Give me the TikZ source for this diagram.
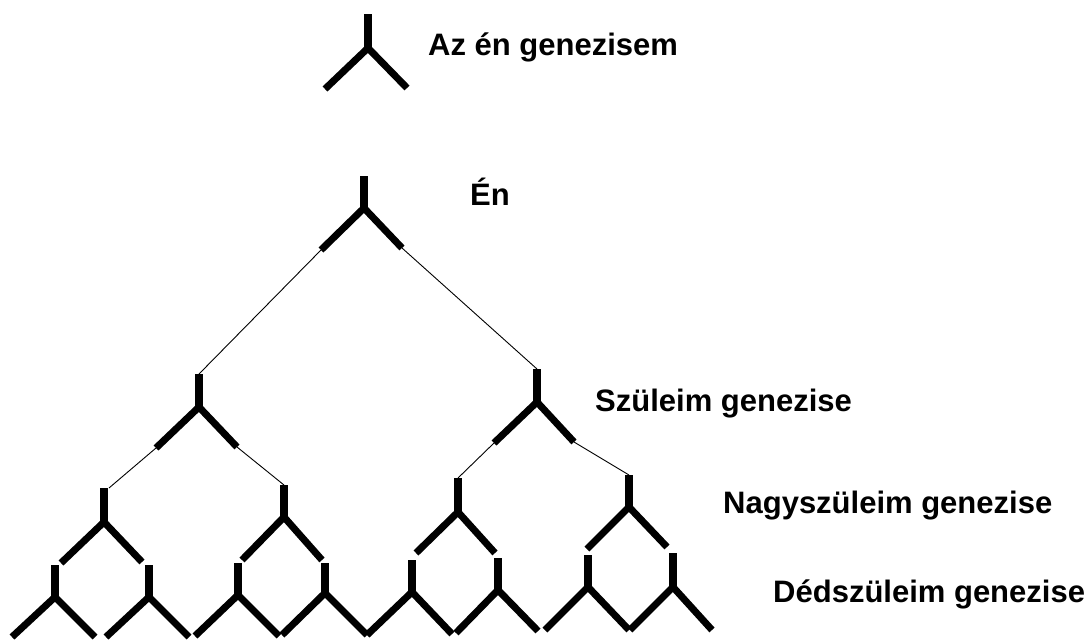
\documentclass[tikz,border=0pt]{standalone}
\usepackage{fontspec}
\setmainfont{Liberation Sans}
\newcommand{\ygl}[8]{%
  \coordinate (#1-t) at (#2,#3);
  \coordinate (#1-j) at (#2,#4);
  \coordinate (#1-l) at (#5,#6);
  \coordinate (#1-r) at (#7,#8);
  \draw[stemline] (#1-t) -- ([yshift=-2pt]#1-j);
  \draw[legline] (#1-l) -- (#1-j) -- (#1-r);
}
\begin{document}
\begin{tikzpicture}[x=1pt,y=-1pt,
  stemline/.style={line width=7.5pt,line cap=butt,black},
  legline/.style={line width=7pt,line cap=butt,line join=miter,black},
  thinline/.style={line width=0.9pt,black},
  lbl/.style={anchor=base west,inner sep=0pt,font=\bfseries\fontsize{31}{36}\selectfont}]
\fill[white] (0,0) rectangle (1089,640);
\useasboundingbox (0,0) rectangle (1089,640);
% legend glyph
\ygl{A}{368}{14}{48}{325}{89}{407}{88}
% tree
\ygl{E}{364}{176}{208}{321}{250}{402}{248}
\ygl{P1}{199}{374}{407}{156}{448}{237}{447}
\ygl{P2}{537}{369}{402}{494}{443}{574}{442}
\ygl{G1}{104}{488}{522}{61}{563}{142}{562}
\ygl{G2}{284}{485}{517}{242}{560}{322}{560}
\ygl{G3}{458}{478}{512}{416}{553}{495}{553}
\ygl{G4}{629}{475}{507}{587}{549}{667}{547}
\ygl{D1}{55}{565}{597}{12}{637}{95}{637}
\ygl{D2}{149}{565}{597}{106}{637}{189}{637}
\ygl{D3}{238}{563}{595}{195}{636}{279}{636}
\ygl{D4}{325}{563}{593}{282}{635}{367}{635}
\ygl{D5}{412}{560}{592}{367}{635}{452}{634}
\ygl{D6}{498}{558}{590}{456}{633}{538}{631}
\ygl{D7}{588}{555}{587}{545}{630}{629}{630}
\ygl{D8}{673}{553}{587}{630}{630}{712}{630}
% thin connectors
\draw[thinline] (E-l) -- (P1-t);
\draw[thinline] (E-r) -- (P2-t);
\draw[thinline] (P1-l) -- ([xshift=5pt]G1-t);
\draw[thinline] (P1-r) -- (G2-t);
\draw[thinline] (P2-l) -- (G3-t);
\draw[thinline] (P2-r) -- (G4-t);
% labels
\node[lbl] (lA) at (428,55) {Az én genezisem};
\node[lbl] (lE) at (470,205) {Én};
\node[lbl] (lP) at (595,411) {Szüleim genezise};
\node[lbl] (lG) at (723,513) {Nagyszüleim genezise};
\node[lbl] (lD) at (773,602) {Dédszüleim genezise};
\end{tikzpicture}
\end{document}
